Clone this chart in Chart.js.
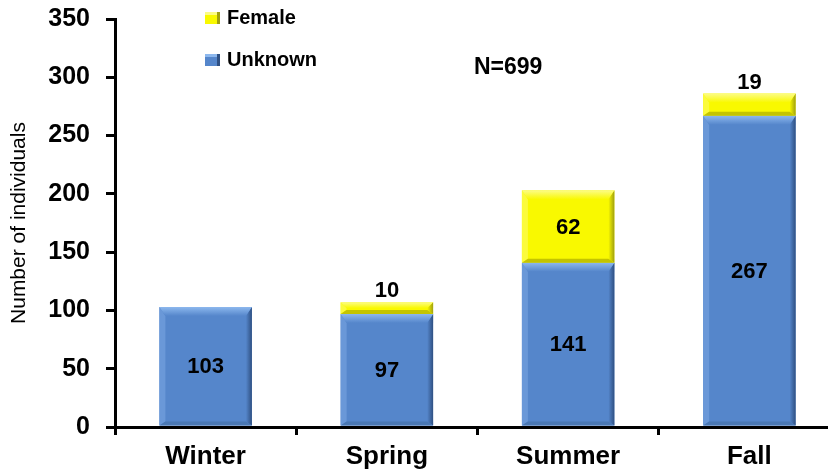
<!DOCTYPE html>
<html>
<head>
<meta charset="utf-8">
<script src="https://cdn.jsdelivr.net/npm/chart.js@4/dist/chart.umd.min.js"></script>
<style>
  html, body { margin: 0; padding: 0; overflow: hidden; background: #fff; }
  #wrap { width: 845px; height: 470px; }
</style>
</head>
<body>
<div id="wrap"><canvas id="chart" width="845" height="470"></canvas></div>
<script>
// Seasonal counts of individuals, split by sex class
const seasons = ['Winter', 'Spring', 'Summer', 'Fall'];
const unknownCounts = [103, 97, 141, 267];
const femaleCounts = [0, 10, 62, 19];
const yTicks = [0, 50, 100, 150, 200, 250, 300, 350];
const totalLabel = 'N=699';

const FONT = '"Liberation Sans", Arial, Helvetica, sans-serif';

const palette = {
  Unknown: { face: '#5586CB', top: '#8DB8EE', left: '#6A98D8', right: '#2F5082', bottom: '#4A78B4' },
  Female:  { face: '#F9F900', top: '#FCFC86', left: '#FBFB3C', right: '#A0A010', bottom: '#C4C400' }
};

// Bevelled faces drawn around every bar segment
const bevelPlugin = {
  id: 'bevel',
  afterDatasetsDraw(chart) {
    const ctx = chart.ctx;
    chart.data.datasets.forEach((ds, di) => {
      const meta = chart.getDatasetMeta(di);
      const col = palette[ds.label];
      meta.data.forEach((bar, i) => {
        if (!ds.data[i]) return;
        const { x, y, base, width } = bar.getProps(['x', 'y', 'base', 'width'], true);
        const l = x - width / 2, r = x + width / 2;
        const t = Math.min(y, base), b = Math.max(y, base);
        const h = b - t;
        const d = Math.min(9, h / 2);
        const s = Math.min(6, h / 2);
        const db = Math.min(4, h / 3);
        const poly = (pts, fill) => {
          ctx.beginPath();
          ctx.moveTo(pts[0][0], pts[0][1]);
          for (let k = 1; k < pts.length; k++) ctx.lineTo(pts[k][0], pts[k][1]);
          ctx.closePath();
          ctx.fillStyle = fill;
          ctx.fill();
        };
        ctx.save();
        poly([[l, t], [l + s, t + d], [l + s, b - db], [l, b]], col.left);
        const gr = ctx.createLinearGradient(r - s, 0, r, 0);
        gr.addColorStop(0, col.face);
        gr.addColorStop(1, col.right);
        poly([[r, t], [r, b], [r - s, b - db], [r - s, t + d]], gr);
        poly([[l, b], [r, b], [r - s, b - db], [l + s, b - db]], col.bottom);
        const g = ctx.createLinearGradient(0, t, 0, t + d);
        g.addColorStop(0, col.top);
        g.addColorStop(1, col.face);
        poly([[l, t], [r, t], [r - s, t + d], [l + s, t + d]], g);
        ctx.restore();
      });
    });
  }
};

// Value labels: centred when the segment is tall enough, above it otherwise
const valueLabelPlugin = {
  id: 'valueLabels',
  afterDatasetsDraw(chart) {
    const ctx = chart.ctx;
    ctx.save();
    ctx.font = 'bold 22px ' + FONT;
    ctx.fillStyle = '#000';
    ctx.textAlign = 'center';
    chart.data.datasets.forEach((ds, di) => {
      const meta = chart.getDatasetMeta(di);
      meta.data.forEach((bar, i) => {
        const v = ds.data[i];
        if (!v) return;
        const { x, y, base } = bar.getProps(['x', 'y', 'base'], true);
        const t = Math.min(y, base), b = Math.max(y, base);
        if (b - t > 30) {
          ctx.textBaseline = 'middle';
          ctx.fillText(String(v), x, (t + b) / 2 + 1);
        } else {
          ctx.textBaseline = 'alphabetic';
          ctx.fillText(String(v), x, t - 5);
        }
      });
    });
    ctx.restore();
  }
};

// Legend block (Female above Unknown) and the sample size note
const legendPlugin = {
  id: 'sideLegend',
  afterDraw(chart) {
    const ctx = chart.ctx;
    ctx.save();
    const items = [
      { label: 'Female', y: 18 },
      { label: 'Unknown', y: 60 }
    ];
    items.forEach(it => {
      const col = palette[it.label];
      const mx = 205, my = it.y - 6, mw = 15, mh = 12;
      ctx.fillStyle = col.face;
      ctx.fillRect(mx, my, mw, mh);
      ctx.fillStyle = col.top;
      ctx.fillRect(mx, my, mw, 3);
      ctx.fillStyle = col.right;
      ctx.fillRect(mx + mw - 3, my, 3, mh);
      ctx.font = 'bold 20px ' + FONT;
      ctx.fillStyle = '#000';
      ctx.textAlign = 'left';
      ctx.textBaseline = 'middle';
      ctx.fillText(it.label, mx + mw + 7, it.y);
    });
    ctx.font = 'bold 23px ' + FONT;
    ctx.textAlign = 'left';
    ctx.textBaseline = 'middle';
    ctx.fillText(totalLabel, 474, 68);
    ctx.restore();
  }
};

new Chart(document.getElementById('chart'), {
  type: 'bar',
  data: {
    labels: seasons,
    datasets: [
      { label: 'Unknown', data: unknownCounts, backgroundColor: palette.Unknown.face, borderWidth: 0 },
      { label: 'Female', data: femaleCounts, backgroundColor: palette.Female.face, borderWidth: 0 }
    ]
  },
  options: {
    responsive: false,
    animation: false,
    layout: { padding: { top: 19, right: 5, left: 0, bottom: 0 } },
    datasets: { bar: { categoryPercentage: 1.0, barPercentage: 0.51 } },
    plugins: {
      legend: { display: false },
      tooltip: { enabled: false }
    },
    scales: {
      x: {
        stacked: true,
        offset: true,
        grid: { offset: true, drawOnChartArea: false, drawTicks: true, tickLength: 8, lineWidth: 3, color: '#000' },
        border: { display: true, color: '#000', width: 3 },
        ticks: { color: '#000', font: { family: FONT, size: 26, weight: 'bold' }, padding: 6 },
        afterFit(scale) { scale.height = 43; scale.paddingLeft = 0; scale.paddingRight = 0; }
      },
      y: {
        stacked: true,
        min: 0,
        max: 350,
        afterBuildTicks(scale) { scale.ticks = yTicks.map(v => ({ value: v })); },
        grid: { drawOnChartArea: false, drawTicks: true, tickLength: 9, lineWidth: 3, color: '#000' },
        border: { display: true, color: '#000', width: 3 },
        ticks: { color: '#000', font: { family: FONT, size: 25, weight: 'bold' }, padding: 16 },
        title: {
          display: true,
          text: 'Number of individuals',
          color: '#000',
          font: { family: FONT, size: 21, weight: 'normal' },
          padding: { top: 7, bottom: 0 }
        },
        afterFit(scale) { scale.width = 115; scale.paddingTop = 0; scale.paddingBottom = 0; }
      }
    }
  },
  plugins: [bevelPlugin, valueLabelPlugin, legendPlugin]
});
</script>
</body>
</html>
